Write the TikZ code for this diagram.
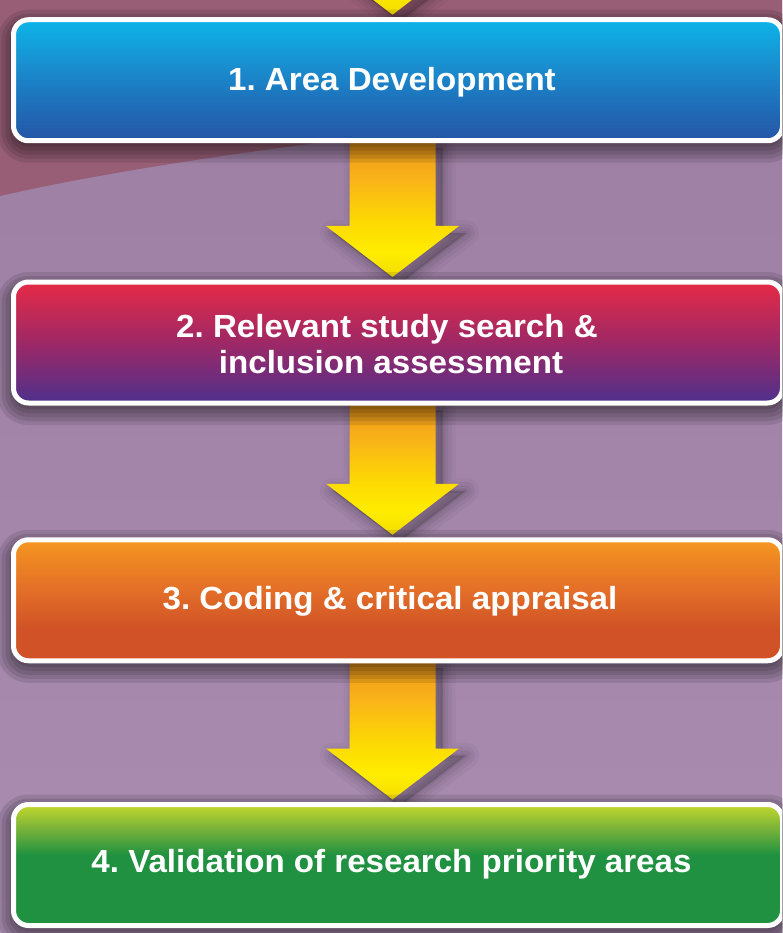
\documentclass[tikz,border=0pt]{standalone}
\usepackage{fontspec}
\setmainfont{Liberation Sans}[FakeStretch=1.035]
\usetikzlibrary{calc}
\definecolor{bgred}{RGB}{151,94,118}
\definecolor{bglavA}{RGB}{156,126,163}
\definecolor{bglavB}{RGB}{169,140,176}
\definecolor{b1a}{RGB}{12,180,232}
\definecolor{b1b}{RGB}{26,140,206}
\definecolor{b1c}{RGB}{30,110,185}
\definecolor{b1d}{RGB}{37,86,165}
\definecolor{b2a}{RGB}{230,42,70}
\definecolor{b2b}{RGB}{158,40,102}
\definecolor{b2c}{RGB}{78,48,140}
\definecolor{b3a}{RGB}{245,150,32}
\definecolor{b3b}{RGB}{228,112,40}
\definecolor{b3c}{RGB}{208,82,38}
\definecolor{b4a}{RGB}{196,216,44}
\definecolor{b4b}{RGB}{120,178,58}
\definecolor{b4c}{RGB}{31,145,64}
\definecolor{ao0}{RGB}{236,150,28}
\definecolor{ao1}{RGB}{250,182,24}
\definecolor{ay0}{RGB}{252,218,2}
\definecolor{ay1}{RGB}{255,237,0}
\definecolor{ay2}{RGB}{242,220,0}
\pgfdeclareverticalshading{boxone}{100bp}{color(0bp)=(b1d); color(25bp)=(b1d); color(40bp)=(b1c); color(55bp)=(b1b); color(75bp)=(b1a); color(100bp)=(b1a)}
\pgfdeclareverticalshading{boxtwo}{100bp}{color(0bp)=(b2c); color(25bp)=(b2c); color(50bp)=(b2b); color(75bp)=(b2a); color(100bp)=(b2a)}
\pgfdeclareverticalshading{boxthree}{100bp}{color(0bp)=(b3c); color(38bp)=(b3c); color(55bp)=(b3b); color(75bp)=(b3a); color(100bp)=(b3a)}
\pgfdeclareverticalshading{boxfour}{100bp}{color(0bp)=(b4c); color(54bp)=(b4c); color(65bp)=(b4b); color(75bp)=(b4a); color(100bp)=(b4a)}
\pgfdeclareverticalshading{arrowshade}{100bp}{color(0bp)=(ay2); color(25bp)=(ay2); color(34bp)=(ay1); color(45bp)=(ay0); color(60bp)=(ao1); color(75bp)=(ao0); color(100bp)=(ao0)}
\pgfdeclarelayer{bglayer}
\pgfdeclarelayer{arrowlayer}
\pgfdeclarelayer{shadowlayer}
\pgfsetlayers{bglayer,arrowlayer,shadowlayer,main}
\tikzset{
  stepbox/.style={shape=rectangle, shade, draw=white, line width=5pt, rounded corners=15pt,
    minimum width=769pt, minimum height=121pt, inner sep=0pt, outer sep=0pt},
  steptext/.style={text=white, font=\fontsize{32}{36}\selectfont\bfseries\frenchspacing, anchor=base, inner sep=0pt},
}
% #1 start point name, #2 end point name (box north)
\newcommand\flowarrow[2]{%
  \begin{pgfonlayer}{arrowlayer}
  \foreach \w/\o in {26/0.03,18/0.04,11/0.05,4/0.06}{%
    \filldraw[black, opacity=\o, line width=\w pt, line join=round]
      let \p1=($(#1)+(1.5,7)$), \p2=($(#2)+(0,7)$) in
      (\x1-43pt,\y1) -- (\x1+43pt,\y1) -- (\x1+43pt,\y2+56pt) -- (\x1+66.5pt,\y2+56pt)
      -- (\x1,\y2+5pt) -- (\x1-66.5pt,\y2+56pt) -- (\x1-43pt,\y2+56pt) -- cycle;
  }
  \shade[shading=arrowshade]
      let \p1=($(#1)+(-5.5,0)$), \p2=(#2) in
      (\x1-43pt,\y1) -- (\x1+43pt,\y1) -- (\x1+43pt,\y2+56pt) -- (\x1+66.5pt,\y2+56pt)
      -- (\x1,\y2+5pt) -- (\x1-66.5pt,\y2+56pt) -- (\x1-43pt,\y2+56pt) -- cycle;
  \end{pgfonlayer}}
% box shadow
\newcommand\boxshadow[1]{%
  \begin{pgfonlayer}{shadowlayer}
  \foreach \e in {0,4,8,12,16}{%
    \fill[black, opacity=0.1, rounded corners=15pt+\e pt]
      ($(#1.north west)+(-\e,6-\e)$) rectangle ($(#1.south east)+(\e,6+\e)$);
  }
  \end{pgfonlayer}}
\begin{document}
\begin{tikzpicture}[x=1pt,y=-1pt]
\useasboundingbox (0,0) rectangle (782,933);
\clip (0,0) rectangle (782,933);
\begin{pgfonlayer}{bglayer}
  \shade[top color=bglavA, bottom color=bglavB] (0,0) rectangle (782,933);
  \fill[bgred] (0,0) -- (782,0) -- (782,95) .. controls (560,112) and (200,150) .. (0,196) -- cycle;
\end{pgfonlayer}
% boxes
\node[stepbox, shading=boxone]   (b1) at (398,80.25) {};
\node[stepbox, shading=boxtwo]   (b2) at (398,342.5) {};
\node[stepbox, shading=boxthree] (b3) at (398,600.25) {};
\node[stepbox, shading=boxfour]  (b4) at (398,865) {};
\boxshadow{b1}
\boxshadow{b2}
\boxshadow{b3}
\boxshadow{b4}
% texts
\node[steptext] (t1)  at (392,91)  {1. Area Development};
\node[steptext] (t2a) at (387,337) {2. Relevant study search \&};
\node[steptext] (t2b) at (391,373) {inclusion assessment};
\node[steptext] (t3)  at (390,609) {3. Coding \& critical appraisal};
\node[steptext] (t4)  at (391.5,872) {4. Validation of research priority areas};
% arrows
\coordinate (a0) at (398,-150);
\flowarrow{a0}{b1.north}
\flowarrow{b1.south}{b2.north}
\flowarrow{b2.south}{b3.north}
\flowarrow{b3.south}{b4.north}
\end{tikzpicture}
\end{document}
